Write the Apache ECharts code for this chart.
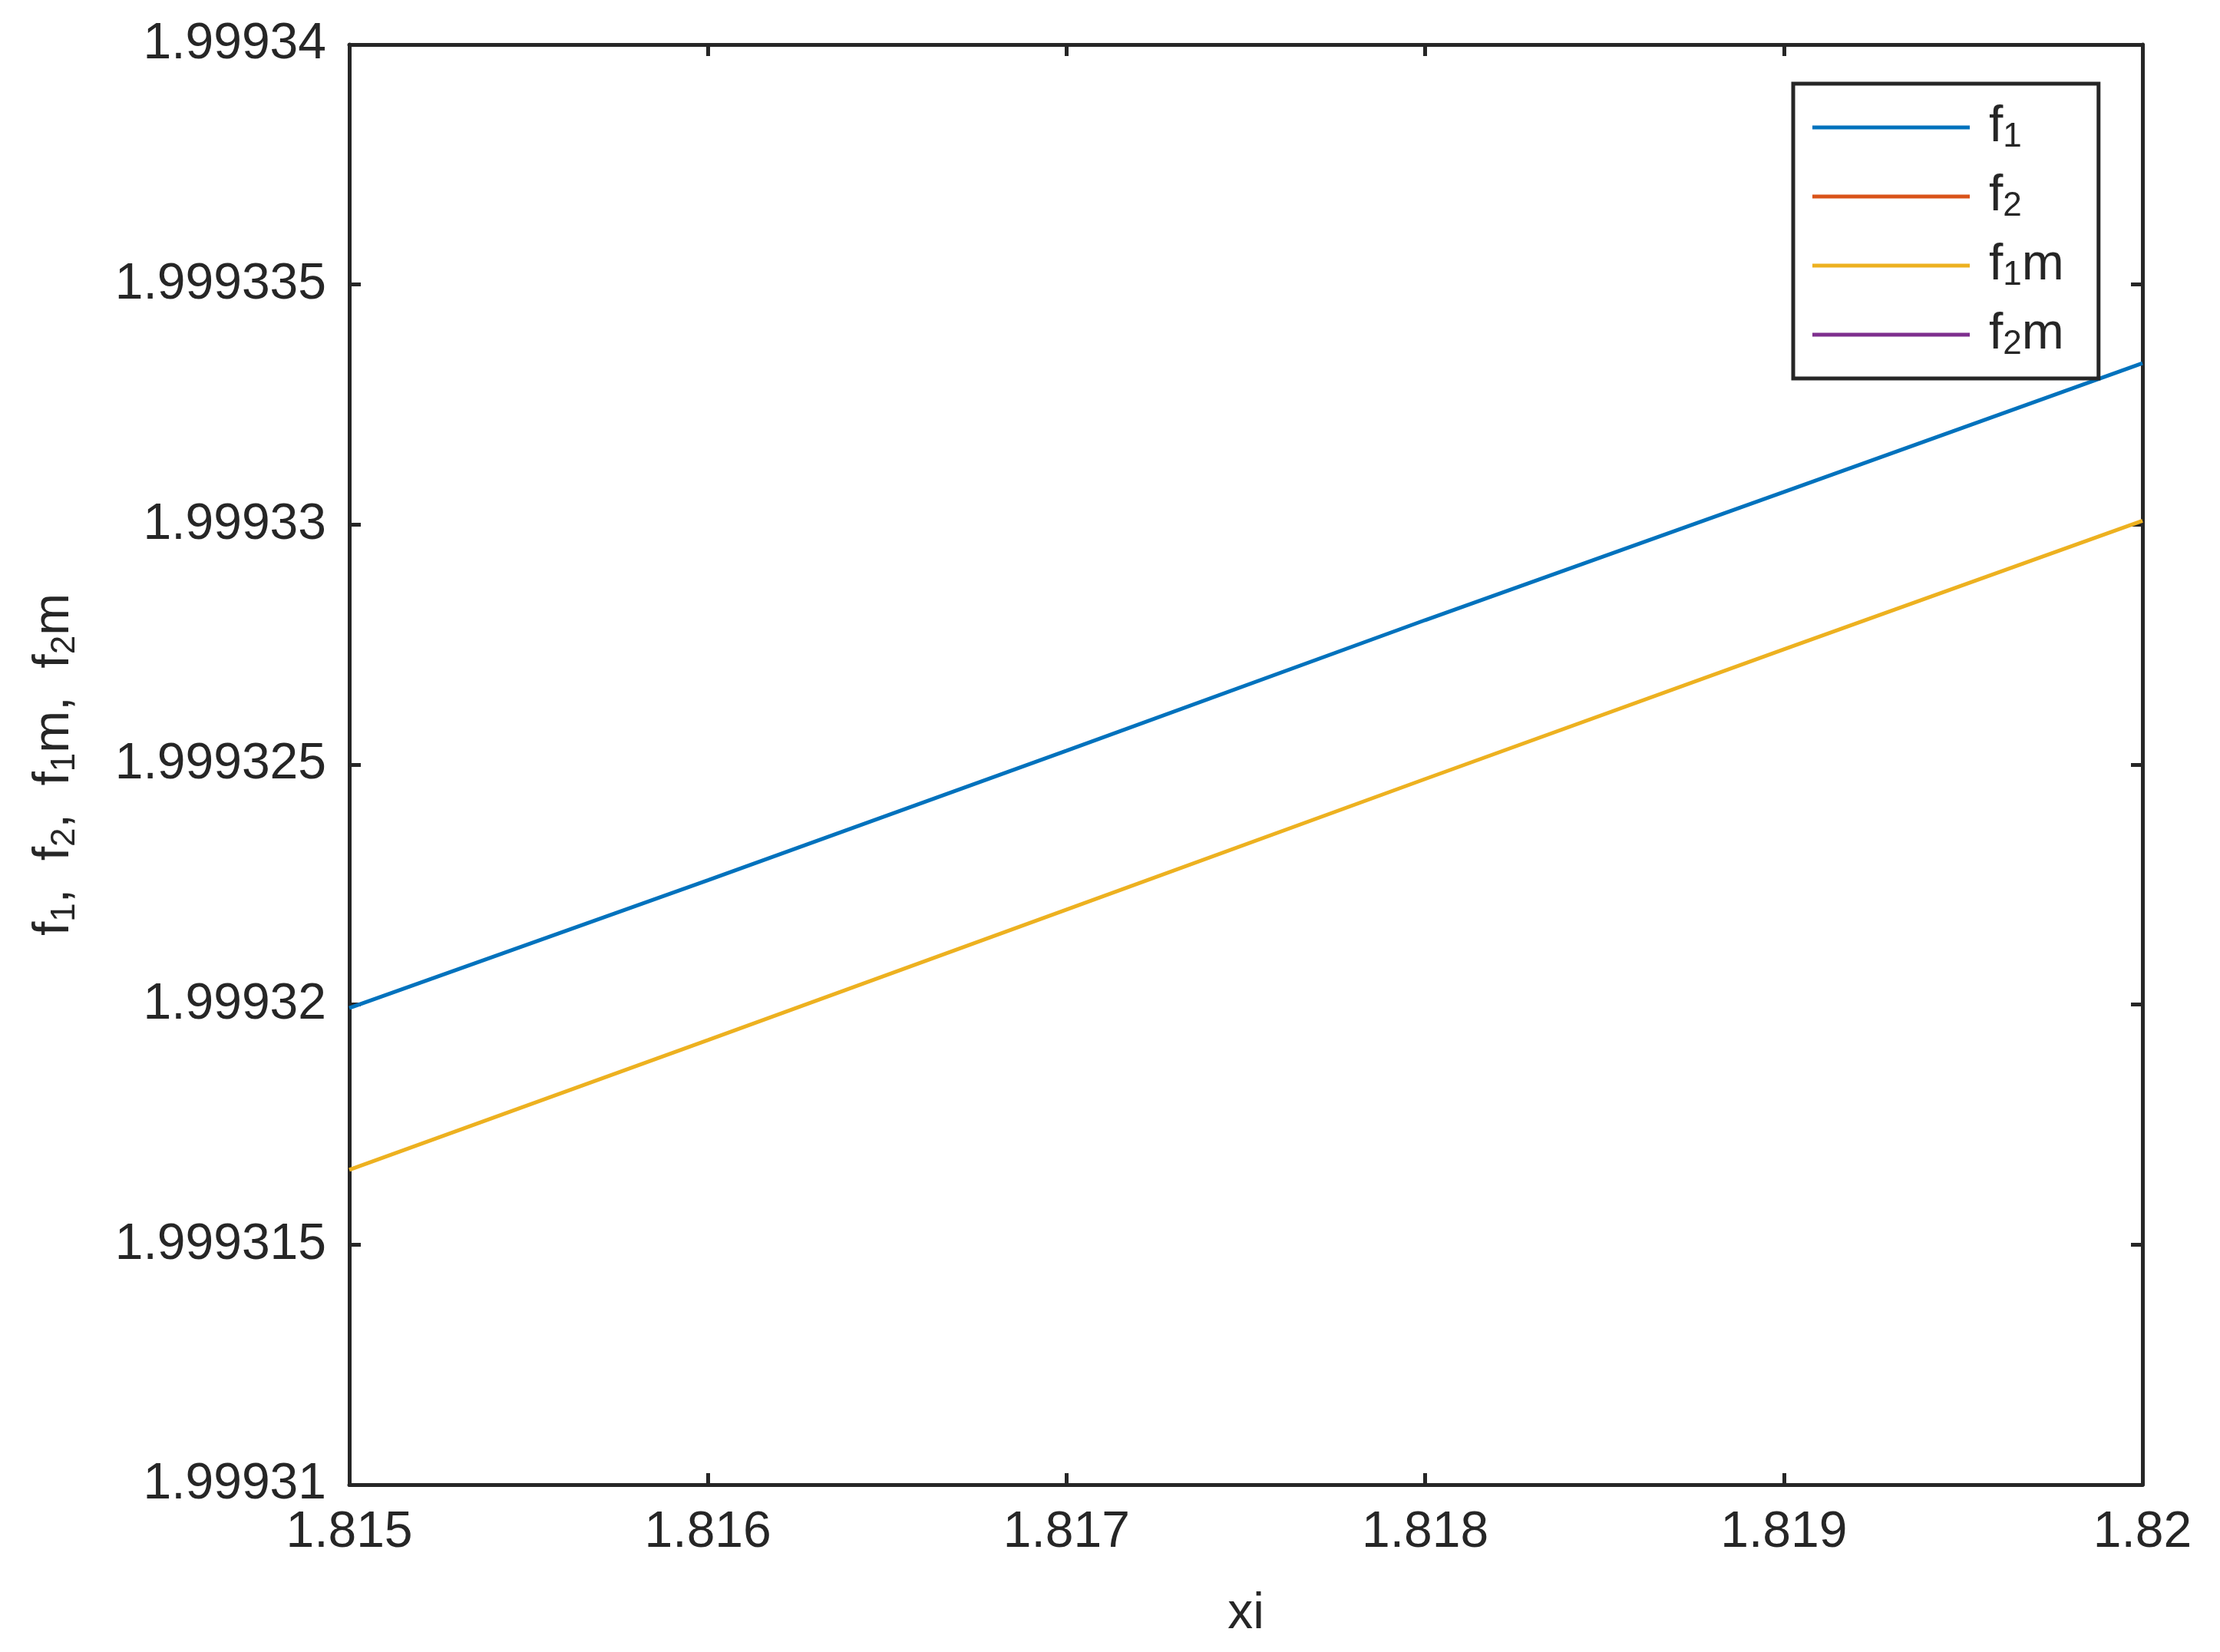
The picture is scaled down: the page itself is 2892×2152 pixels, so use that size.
<!DOCTYPE html>
<html>
<head>
<meta charset="utf-8">
<script src="https://cdn.jsdelivr.net/npm/echarts@6/dist/echarts.min.js"></script>
<style>html,body{margin:0;padding:0;background:#fff;}#c{width:2892px;height:2152px;}</style>
</head>
<body>
<div id="c"></div>
<script>
// ---- data ----
const xValues = [1.815, 1.816, 1.817, 1.818, 1.819, 1.82];
const f1Values = [1.99931993, 1.99932259, 1.99932529, 1.99932801, 1.99933068, 1.99933336];
const f2Values = [];   // not visible in the plotted range
const f1mValues = [1.99931656, 1.99931926, 1.99932198, 1.99932470, 1.99932740, 1.99933008];
const f2mValues = [];  // not visible in the plotted range
const seriesNames = ['f1', 'f2', 'f1m', 'f2m'];
const seriesLabels = ['f{s|1}', 'f{s|2}', 'f{s|1}m', 'f{s|2}m'];
const xTicks = { min: 1.815, max: 1.82, interval: 0.001 };
const yTicks = { min: 1.99931, max: 1.99934, interval: 0.000005 };
const xName = 'xi';
const yName = 'f{s|1},  f{s|2},  f{s|1}m,  f{s|2}m';

const colors = ['#0072BD', '#D95319', '#EDB120', '#7E2F8E'];
const dark = '#262626';
const FONT = '"Liberation Sans", Arial, sans-serif';
const FS = 66;
const subStyle = { fontSize: 44, lineHeight: 44, verticalAlign: 'bottom', fontFamily: FONT, color: dark };

function pairs(ys) { return ys.map((y, i) => [xValues[i], y]); }
const allData = [f1Values, f2Values, f1mValues, f2mValues];

const fmt = v => String(+(+v).toFixed(7));

const chart = echarts.init(document.getElementById('c'));
const axisCommon = {
  axisLine: { show: true, lineStyle: { color: dark, width: 5 } },
  axisTick: { show: true, inside: true, length: 15, lineStyle: { color: dark, width: 5 } },
  splitLine: { show: false }
};
chart.setOption({
  animation: false,
  backgroundColor: '#fff',
  grid: { left: 455, right: 101, top: 58, bottom: 218, containLabel: false },
  xAxis: [
    Object.assign({
      type: 'value', position: 'bottom', min: xTicks.min, max: xTicks.max, interval: xTicks.interval,
      name: xName, nameLocation: 'middle', nameGap: 136,
      nameTextStyle: { fontSize: FS, fontFamily: FONT, color: dark },
      axisLabel: { fontSize: FS, fontFamily: FONT, color: dark, margin: 30, formatter: fmt }
    }, axisCommon),
    Object.assign({
      type: 'value', position: 'top', min: xTicks.min, max: xTicks.max, interval: xTicks.interval,
      axisLabel: { show: false }
    }, axisCommon)
  ],
  yAxis: [
    Object.assign({
      type: 'value', position: 'left', min: yTicks.min, max: yTicks.max, interval: yTicks.interval,
      name: yName, nameLocation: 'middle', nameGap: 348,
      nameTextStyle: { fontSize: FS, fontFamily: FONT, color: dark, lineHeight: 72, rich: { s: subStyle } },
      axisLabel: { fontSize: FS, fontFamily: FONT, color: dark, margin: 30, formatter: fmt }
    }, axisCommon),
    Object.assign({
      type: 'value', position: 'right', min: yTicks.min, max: yTicks.max, interval: yTicks.interval,
      axisLabel: { show: false }
    }, axisCommon)
  ],
  legend: {
    show: true, orient: 'vertical', left: 2336, top: 109,
    padding: [22, 45, 22, 25], itemGap: 20,
    itemWidth: 205, itemHeight: 5, icon: 'rect',
    borderColor: dark, borderWidth: 5, backgroundColor: '#fff',
    data: seriesNames,
    formatter: name => seriesLabels[seriesNames.indexOf(name)],
    textStyle: { fontSize: FS, fontFamily: FONT, color: dark, lineHeight: 70, padding: [0, 0, 0, 20], rich: { s: subStyle } }
  },
  series: seriesNames.map((n, i) => ({
    name: n, type: 'line', data: pairs(allData[i]), showSymbol: false, symbol: 'none',
    color: colors[i], lineStyle: { color: colors[i], width: 5 }, xAxisIndex: 0, yAxisIndex: 0
  }))
});
</script>
</body>
</html>
